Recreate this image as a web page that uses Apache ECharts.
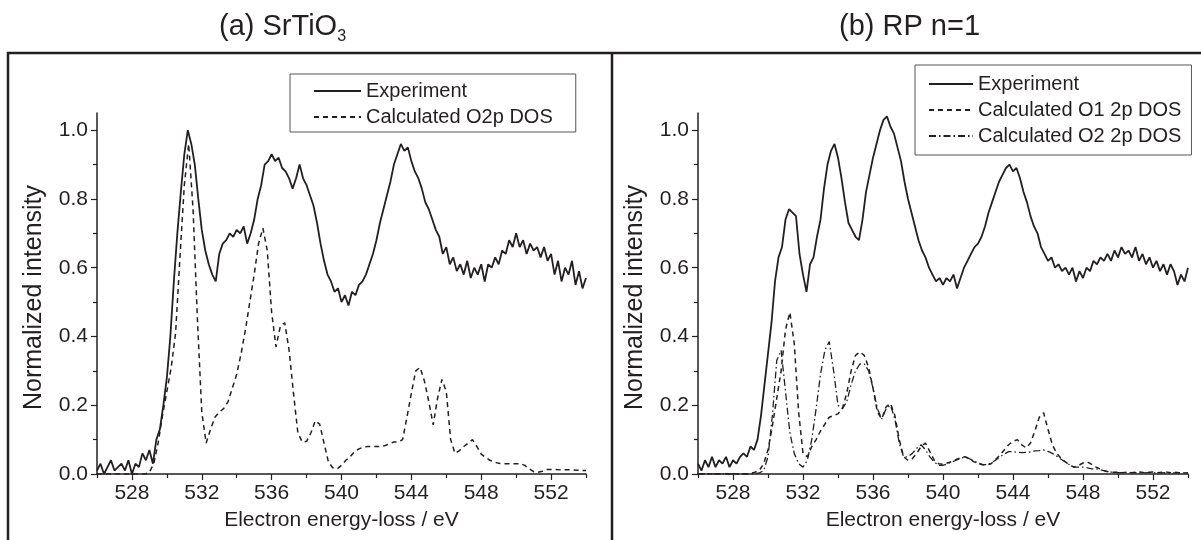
<!DOCTYPE html>
<html><head><meta charset="utf-8">
<script src="https://cdn.jsdelivr.net/npm/echarts@6/dist/echarts.min.js"></script>
<style>html,body{margin:0;padding:0;background:#fff}#c{width:1201px;height:540px}</style>
</head><body><div id="c"></div>
<script>
// energy grids (eV)
const expStart = 526, expStep = 0.2;    // experiment sampling
const calcStart = 526, calcStep = 0.25; // calculated DOS sampling

// (a) SrTiO3 – experiment, 526.0 ... 554.0 step 0.2
const expA = [
  0.01,0.03,0.00,0.02,0.04,0.01,0.02,0.03,0.01,0.04,
  0.00,0.03,0.02,0.06,0.04,0.07,0.03,0.10,0.13,0.20,
  0.28,0.40,0.56,0.70,0.82,0.93,1.00,0.96,0.90,0.80,
  0.71,0.65,0.61,0.58,0.56,0.64,0.67,0.68,0.70,0.69,
  0.71,0.70,0.72,0.67,0.70,0.74,0.80,0.84,0.90,0.91,
  0.93,0.91,0.92,0.89,0.88,0.86,0.83,0.86,0.90,0.86,
  0.84,0.81,0.78,0.73,0.67,0.62,0.58,0.56,0.53,0.54,
  0.50,0.52,0.49,0.53,0.52,0.55,0.56,0.58,0.61,0.64,
  0.68,0.73,0.77,0.81,0.85,0.90,0.93,0.96,0.94,0.95,
  0.91,0.88,0.86,0.83,0.79,0.77,0.74,0.71,0.69,0.64,
  0.66,0.61,0.63,0.59,0.61,0.58,0.62,0.57,0.60,0.58,
  0.61,0.56,0.61,0.60,0.63,0.61,0.65,0.64,0.68,0.66,
  0.70,0.66,0.68,0.64,0.67,0.65,0.66,0.63,0.66,0.62,
  0.64,0.58,0.62,0.56,0.60,0.58,0.62,0.55,0.59,0.54,
  0.57
];
// (a) calculated O2p DOS, 526.00 ... 554.00 step 0.25
const calcA = [
  0,0,0,0,0,0,0,0,
  0,0,0,0,0.005,0.03,0.09,0.17,
  0.24,0.31,0.41,0.63,0.84,0.96,0.77,0.45,
  0.18,0.09,0.13,0.165,0.18,0.19,0.21,0.25,
  0.29,0.35,0.42,0.50,0.58,0.67,0.715,0.65,
  0.47,0.37,0.43,0.44,0.36,0.235,0.12,0.093,
  0.095,0.12,0.155,0.145,0.09,0.035,0.018,0.015,
  0.025,0.04,0.05,0.065,0.073,0.078,0.08,0.08,
  0.08,0.08,0.083,0.088,0.093,0.093,0.10,0.166,
  0.235,0.30,0.31,0.27,0.21,0.143,0.22,0.275,
  0.24,0.10,0.06,0.068,0.08,0.09,0.10,0.08,
  0.058,0.048,0.04,0.035,0.031,0.03,0.03,0.03,
  0.03,0.03,0.025,0.015,0.007,0.005,0.008,0.013,
  0.013,0.013,0.012,0.012,0.012,0.012,0.011,0.01,
  0.01
];
// (b) RP n=1 – experiment, 526.0 ... 554.0 step 0.2
const expB = [
  0.03,0.01,0.04,0.02,0.05,0.02,0.04,0.03,0.05,0.02,
  0.04,0.03,0.05,0.06,0.05,0.08,0.07,0.10,0.17,0.26,
  0.35,0.44,0.56,0.63,0.66,0.74,0.77,0.76,0.75,0.64,
  0.58,0.53,0.61,0.63,0.69,0.74,0.83,0.90,0.94,0.96,
  0.92,0.86,0.79,0.73,0.71,0.69,0.68,0.74,0.82,0.87,
  0.92,0.96,1.00,1.03,1.04,1.01,0.99,0.95,0.91,0.85,
  0.80,0.76,0.72,0.68,0.65,0.63,0.60,0.58,0.56,0.57,
  0.55,0.57,0.56,0.58,0.54,0.57,0.60,0.62,0.64,0.66,
  0.67,0.69,0.72,0.76,0.79,0.82,0.85,0.87,0.89,0.90,
  0.88,0.89,0.86,0.82,0.79,0.75,0.72,0.70,0.66,0.64,
  0.62,0.63,0.60,0.61,0.59,0.60,0.58,0.60,0.56,0.59,
  0.57,0.60,0.59,0.62,0.61,0.63,0.62,0.64,0.62,0.65,
  0.63,0.66,0.64,0.65,0.63,0.66,0.62,0.64,0.61,0.63,
  0.60,0.62,0.59,0.61,0.58,0.61,0.59,0.55,0.58,0.56,
  0.60
];
// (b) calculated O1 2p DOS, step 0.25
const calcB_O1 = [
  0,0,0,0,0,0,0,0,
  0,0,0,0,0.002,0.005,0.01,0.03,
  0.07,0.14,0.22,0.30,0.42,0.47,0.38,0.18,
  0.06,0.05,0.08,0.10,0.125,0.145,0.165,0.17,
  0.175,0.19,0.235,0.30,0.345,0.355,0.345,0.31,
  0.25,0.18,0.16,0.195,0.205,0.17,0.10,0.05,
  0.04,0.045,0.06,0.08,0.09,0.065,0.04,0.03,
  0.028,0.032,0.036,0.042,0.047,0.05,0.045,0.036,
  0.03,0.027,0.026,0.03,0.042,0.055,0.07,0.085,
  0.095,0.10,0.085,0.076,0.09,0.125,0.165,0.178,
  0.13,0.085,0.06,0.045,0.035,0.025,0.02,0.025,
  0.032,0.035,0.028,0.02,0.014,0.009,0.006,0.005,
  0.005,0.004,0.005,0.004,0.005,0.006,0.004,0.005,
  0.006,0.004,0.005,0.006,0.004,0.005,0.004,0.003,
  0.004
];
// (b) calculated O2 2p DOS, step 0.25
const calcB_O2 = [
  0,0,0,0,0,0,0,0,
  0,0,0,0,0,0,0.003,0.01,
  0.05,0.17,0.33,0.36,0.24,0.12,0.06,0.03,
  0.02,0.04,0.10,0.19,0.29,0.36,0.385,0.30,
  0.20,0.19,0.21,0.26,0.30,0.32,0.32,0.30,
  0.25,0.19,0.16,0.19,0.20,0.16,0.09,0.05,
  0.05,0.06,0.075,0.085,0.07,0.05,0.035,0.025,
  0.025,0.03,0.035,0.04,0.045,0.05,0.045,0.038,
  0.032,0.028,0.027,0.032,0.04,0.05,0.058,0.065,
  0.065,0.063,0.062,0.063,0.064,0.067,0.068,0.07,
  0.066,0.06,0.052,0.043,0.035,0.026,0.02,0.02,
  0.02,0.018,0.015,0.015,0.012,0.009,0.006,0.005,
  0.004,0.004,0.004,0.004,0.004,0.003,0.003,0.004,
  0.004,0.003,0.003,0.004,0.003,0.003,0.003,0.003,
  0.003
];

const xMajorTicks = [528,532,536,540,544,548,552];
const xMinorTicks = [526,530,534,538,542,546,550,554];
const yMajorTicks = [0,0.2,0.4,0.6,0.8,1.0];
const yMinorTicks = [0.1,0.3,0.5,0.7,0.9];
const titles = ['(a) SrTiO{s|3}', '(b) RP n=1'];
const xName = 'Electron energy-loss / eV';
const yName = 'Normalized intensity';
const namesA = ['Experiment', 'Calculated O2p DOS'];
const namesB = ['Experiment', 'Calculated O1 2p DOS', 'Calculated O2 2p DOS'];

const pair = (start, step, arr) => arr.map((v, i) => [+(start + i * step).toFixed(2), v]);

const INK = '#231f20';
const FONT = '"Liberation Sans", Arial, Helvetica, sans-serif';

function mainX(g) {
  return {
    gridIndex: g, type: 'value', min: 526, max: 554, position: 'bottom',
    axisLine: { show: true, onZero: false, lineStyle: { color: INK, width: 1.5 } },
    axisTick: { show: true, customValues: xMajorTicks, length: 6, lineStyle: { color: INK, width: 1.2 } },
    axisLabel: { customValues: xMajorTicks, margin: 9, fontSize: 21, color: INK, fontFamily: FONT },
    splitLine: { show: false },
    name: xName, nameLocation: 'middle', nameGap: 36,
    nameTextStyle: { fontSize: 21, color: INK, fontFamily: FONT }
  };
}
function minorX(g) {
  return {
    gridIndex: g, type: 'value', min: 526, max: 554, position: 'bottom', offset: 0,
    axisLine: { show: false, onZero: false },
    axisTick: { show: true, customValues: xMinorTicks, length: 4, lineStyle: { color: INK, width: 1.2 } },
    axisLabel: { show: false }, splitLine: { show: false }
  };
}
function mainY(g) {
  return {
    gridIndex: g, type: 'value', min: 0, max: 1.05, position: 'left',
    axisLine: { show: true, onZero: false, lineStyle: { color: INK, width: 1.5 } },
    axisTick: { show: true, customValues: yMajorTicks, length: 6, lineStyle: { color: INK, width: 1.2 } },
    axisLabel: { customValues: yMajorTicks, formatter: v => v.toFixed(1), margin: 9, fontSize: 21, color: INK, fontFamily: FONT },
    splitLine: { show: false },
    name: yName, nameLocation: 'middle', nameGap: 50,
    nameTextStyle: { fontSize: 25, color: INK, fontFamily: FONT, padding: [0, 8, 0, 0] }
  };
}
function minorY(g) {
  return {
    gridIndex: g, type: 'value', min: 0, max: 1.05, position: 'left', offset: 0,
    axisLine: { show: false, onZero: false },
    axisTick: { show: true, customValues: yMinorTicks, length: 4, lineStyle: { color: INK, width: 1.2 } },
    axisLabel: { show: false }, splitLine: { show: false }
  };
}
function line(name, data, xi, yi, type, width) {
  return {
    name, type: 'line', data, xAxisIndex: xi, yAxisIndex: yi,
    symbol: 'none', showSymbol: false, animation: false, smooth: false,
    lineStyle: { color: INK, width: width, type: type },
    itemStyle: { color: INK }
  };
}

const chart = echarts.init(document.getElementById('c'), null, { renderer: 'canvas' });
chart.setOption({
  backgroundColor: '#fff',
  animation: false,
  textStyle: { fontFamily: FONT },
  title: [
    { text: titles[0], left: 214, top: 3,
      textStyle: { fontSize: 29, fontWeight: 'normal', color: INK, fontFamily: FONT, lineHeight: 37,
        rich: { s: { fontSize: 16, lineHeight: 16, verticalAlign: 'bottom', color: INK, fontFamily: FONT } } } },
    { text: titles[1], left: 834, top: 3,
      textStyle: { fontSize: 29, fontWeight: 'normal', color: INK, fontFamily: FONT, lineHeight: 37 } }
  ],
  grid: [
    { left: 97, right: 615, top: 113, bottom: 66 },
    { left: 698, right: 13, top: 113, bottom: 66 }
  ],
  xAxis: [mainX(0), mainX(1), minorX(0), minorX(1)],
  yAxis: [mainY(0), mainY(1), minorY(0), minorY(1)],
  legend: [
    { data: namesA.map(n => ({ name: n })), orient: 'vertical', left: 290, top: 74,
      itemWidth: 47, itemHeight: 14, itemGap: 6, itemStyle: { opacity: 0 },
      padding: [7, 23, 5, 23], borderColor: '#555', borderWidth: 1,
      textStyle: { fontSize: 20, color: INK, fontFamily: FONT }, selectedMode: false },
    { data: namesB.map(n => ({ name: n })), orient: 'vertical', left: 915, top: 65,
      itemWidth: 44, itemHeight: 14, itemGap: 6, itemStyle: { opacity: 0 },
      padding: [9, 10, 9, 13], borderColor: '#555', borderWidth: 1,
      textStyle: { fontSize: 20, color: INK, fontFamily: FONT }, selectedMode: false }
  ],
  series: [
    line('Experiment', pair(expStart, expStep, expA), 0, 0, 'solid', 1.8),
    line('Calculated O2p DOS', pair(calcStart, calcStep, calcA), 0, 0, [5, 4], 1.5),
    line('Experiment', pair(expStart, expStep, expB), 1, 1, 'solid', 1.8),
    line('Calculated O1 2p DOS', pair(calcStart, calcStep, calcB_O1), 1, 1, [5, 4], 1.5),
    line('Calculated O2 2p DOS', pair(calcStart, calcStep, calcB_O2), 1, 1, [7, 3, 1.5, 3], 1.3)
  ],
  graphic: [
    { type: 'line', silent: true, shape: { x1: 7, y1: 53, x2: 1201, y2: 53 }, style: { stroke: INK, lineWidth: 2.5 } },
    { type: 'line', silent: true, shape: { x1: 8, y1: 52, x2: 8, y2: 540 }, style: { stroke: INK, lineWidth: 2.5 } },
    { type: 'line', silent: true, shape: { x1: 612, y1: 52, x2: 612, y2: 540 }, style: { stroke: INK, lineWidth: 2.5 } }
  ]
});
</script>
</body></html>
